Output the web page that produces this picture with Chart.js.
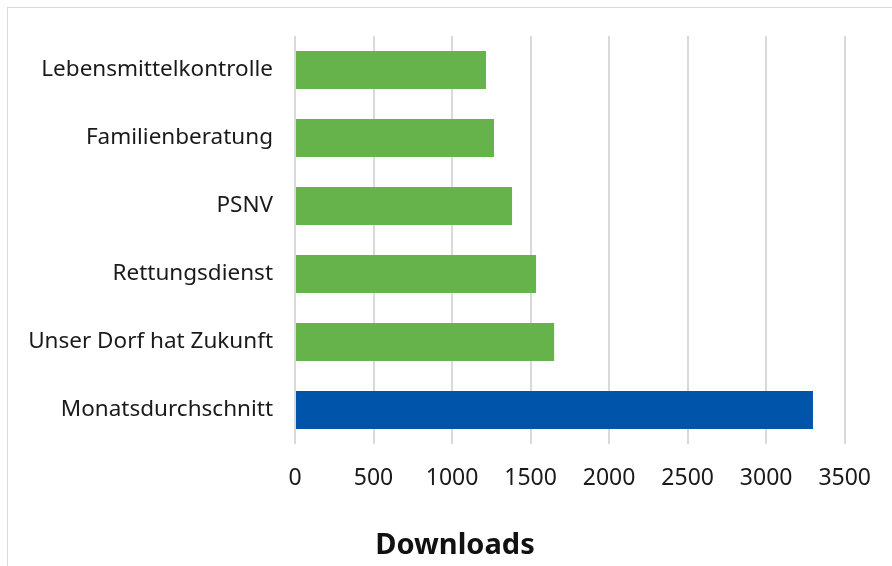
<!DOCTYPE html>
<html lang="de">
<head>
  <meta charset="UTF-8">
  <title>Downloads</title>
  <style>
    html, body {
      margin: 0;
      padding: 0;
      background: #ffffff;
      overflow: hidden;
    }
    .frame {
      position: absolute;
      left: 7px;
      top: 7px;
      width: 900px;
      height: 600px;
      border: 1px solid #d9d9d9;
    }
    .wrap {
      position: absolute;
      left: 0;
      top: 0;
      width: 892px;
      height: 566px;
    }
    .axis-title {
      position: absolute;
      left: 355px;
      width: 200px;
      top: 525px;
      text-align: center;
      font-family: 'Noto Sans', 'Open Sans', sans-serif;
      font-weight: bold;
      font-size: 29px;
      line-height: 36px;
      color: #111111;
    }
  </style>
</head>
<body>
  <div class="frame"></div>
  <div class="wrap">
    <canvas id="chart" width="892" height="566"></canvas>
  </div>
  <div class="axis-title">Downloads</div>
  <script src="https://cdn.jsdelivr.net/npm/chart.js"></script>
  <script>
    const categories = [
      "Lebensmittelkontrolle",
      "Familienberatung",
      "PSNV",
      "Rettungsdienst",
      "Unser Dorf hat Zukunft",
      "Monatsdurchschnitt"
    ];
    const downloads = [1216, 1267, 1382, 1535, 1650, 3298];
    const barColors = ["#66b34c", "#66b34c", "#66b34c", "#66b34c", "#66b34c", "#0054aa"];
    const xTicks = [0, 500, 1000, 1500, 2000, 2500, 3000, 3500];

    const fontFamily = "'Noto Sans', 'Open Sans', sans-serif";

    new Chart(document.getElementById("chart").getContext("2d"), {
      type: "bar",
      data: {
        labels: categories,
        datasets: [{
          label: "Downloads",
          data: downloads,
          backgroundColor: barColors,
          borderWidth: 0,
          categoryPercentage: 1,
          barPercentage: 0.56
        }]
      },
      options: {
        indexAxis: "y",
        responsive: false,
        animation: false,
        layout: { padding: { top: 36, right: 43, bottom: 0, left: 0 } },
        plugins: {
          legend: { display: false },
          tooltip: { enabled: false }
        },
        scales: {
          x: {
            min: 0,
            max: 3500,
            afterBuildTicks: (scale) => {
              scale.ticks = xTicks.map(v => ({ value: v }));
            },
            afterFit: (scale) => { scale.height = 122; },
            grid: {
              color: "#d9d9d9",
              lineWidth: 2,
              drawTicks: false
            },
            border: { display: false },
            ticks: {
              color: "#1a1a1a",
              padding: 21,
              font: { family: fontFamily, size: 23 },
              callback: (v) => String(v)
            }
          },
          y: {
            afterFit: (scale) => { scale.width = 295; },
            grid: { display: false, drawTicks: false },
            border: { display: false },
            ticks: {
              color: "#1a1a1a",
              padding: 22,
              font: { family: fontFamily, size: 22.5 }
            }
          }
        }
      }
    });
  </script>
</body>
</html>
